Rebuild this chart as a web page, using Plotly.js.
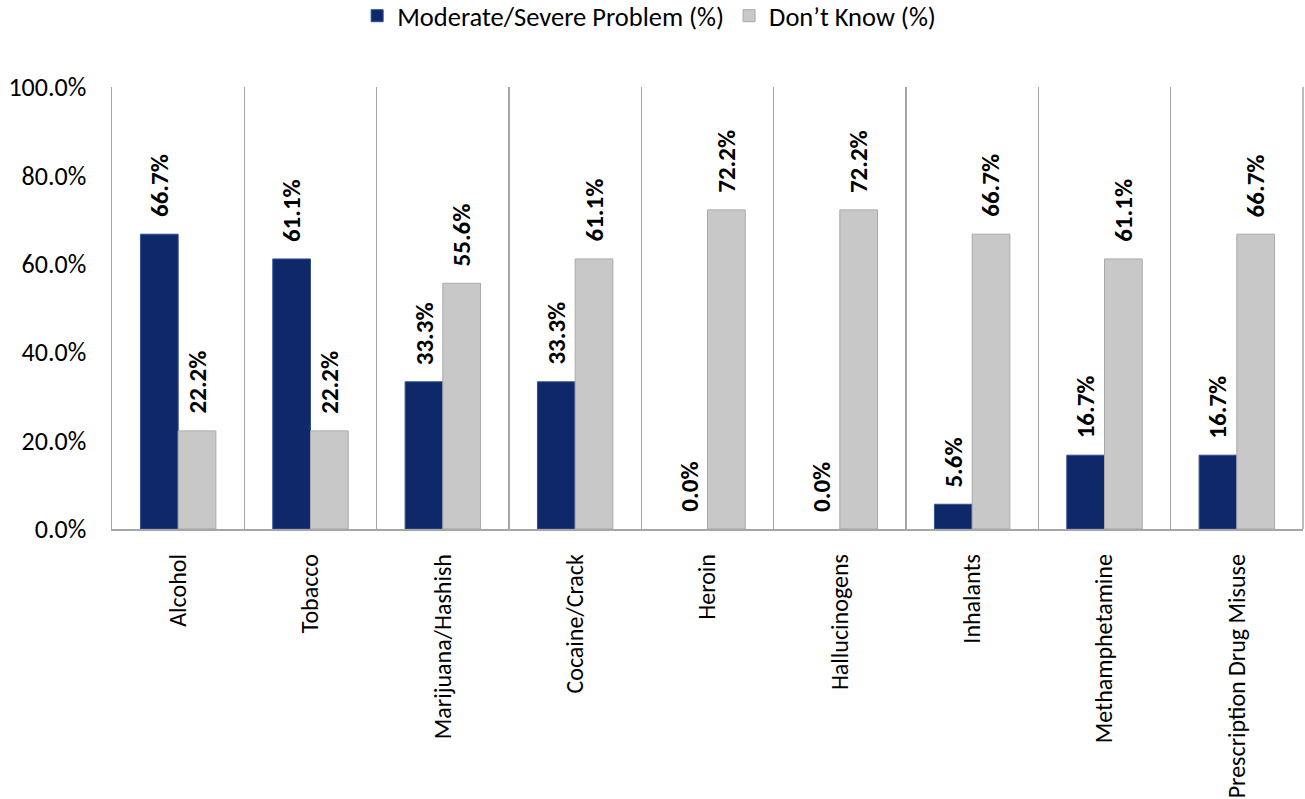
<!DOCTYPE html>
<html>
<head>
<meta charset="utf-8">
<script src="https://cdn.plot.ly/plotly-3.0.1.min.js"></script>
<style>
html,body{margin:0;padding:0;background:#fff;}
#chart{width:1305px;height:799px;}
</style>
</head>
<body>
<div id="chart"></div>
<script>
const categories = ["Alcohol","Tobacco","Marijuana/Hashish","Cocaine/Crack","Heroin","Hallucinogens","Inhalants","Methamphetamine","Prescription Drug Misuse"];
const moderateSevere = [66.7, 61.1, 33.3, 33.3, 0.0, 0.0, 5.6, 16.7, 16.7];
const dontKnow = [22.2, 22.2, 55.6, 61.1, 72.2, 72.2, 66.7, 61.1, 66.7];
const seriesNames = ["Moderate/Severe Problem (%)", "Don\u2019t Know (%)"];
const yTicks = [0, 20, 40, 60, 80, 100];

const FONT = "Carlito, Lato, sans-serif";
const W = 1305, H = 799;
const margin = {l:112, r:2, t:87, b:270, autoexpand:false};
const bargap = 0.43;
const catW = (W - margin.l - margin.r) / categories.length;
const barW = catW * (1 - bargap) / 2;

const traces = [
  {type:'bar', name:seriesNames[0], x:categories, y:moderateSevere,
   marker:{color:'#0E286A', line:{color:'#30508F', width:moderateSevere.map(v => v > 0 ? 1 : 0)}}, hoverinfo:'y'},
  {type:'bar', name:seriesNames[1], x:categories, y:dontKnow,
   marker:{color:'#C8C8C8', line:{color:'#A9A9A9', width:dontKnow.map(v => v > 0 ? 1 : 0)}}, hoverinfo:'y'}
];

const annotations = [];
[moderateSevere, dontKnow].forEach((vals, s) => {
  vals.forEach((v, i) => {
    annotations.push({
      x: categories[i], y: v, xref:'x', yref:'y',
      text: v.toFixed(1) + '%',
      textangle: -90, showarrow:false,
      xanchor:'center', yanchor:'bottom',
      xshift: (s === 0 ? -1 : 1) * barW / 2,
      yshift: 15,
      font:{family:FONT, size:25, color:'#000', weight:'bold'}
    });
  });
});

const layout = {
  width:W, height:H, margin:margin,
  paper_bgcolor:'#fff', plot_bgcolor:'#fff',
  barmode:'group', bargap:bargap, bargroupgap:0,
  font:{family:FONT, color:'#000'},
  showlegend:true,
  legend:{orientation:'h', xref:'paper', x:0.451, xanchor:'center', yref:'container', y:0.98, yanchor:'middle',
          font:{family:FONT, size:26.5, color:'#000'}, itemclick:false, traceorder:'normal'},
  xaxis:{type:'category', tickson:'boundaries', showgrid:true, gridcolor:'#A6A6A6', gridwidth:1.5,
         showline:true, linecolor:'#A6A6A6', linewidth:1.5, ticks:'', tickangle:-90, ticklabelstandoff:14,
         tickfont:{family:FONT, size:24, color:'#000'}, range:[-0.5, categories.length-0.5],
         mirror:false},
  yaxis:{range:[0,100], tickvals:yTicks, ticktext:yTicks.map(v => v.toFixed(1)+'%'),
         showgrid:false, zeroline:false, showline:true, linecolor:'#A6A6A6', linewidth:1.5,
         ticks:'', ticklabelstandoff:19, tickfont:{family:FONT, size:26, color:'#000'}},
  shapes:[{type:'line', xref:'paper', yref:'paper', x0:1, x1:1, y0:0, y1:1,
           line:{color:'#A6A6A6', width:1.5}}],
  annotations:annotations
};

Plotly.newPlot('chart', traces, layout, {displayModeBar:false, staticPlot:true});
</script>
</body>
</html>
